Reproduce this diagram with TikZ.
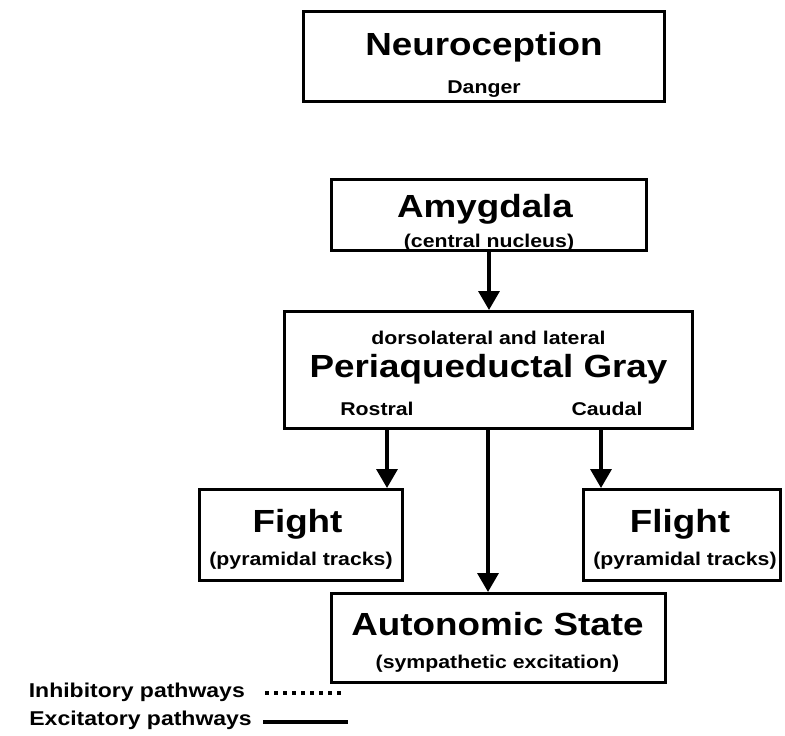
\documentclass[tikz,border=0pt]{standalone}
\usepackage{fontspec}
\setmainfont{Liberation Sans}[FakeStretch=1.15]
\usetikzlibrary{arrows.meta}
\tikzset{
  box/.style={draw, line width=3pt, rectangle, inner sep=0pt},
  ttl/.style={anchor=base, inner sep=0pt, font=\bfseries\fontsize{32}{32}\selectfont},
  subt/.style={anchor=base, inner sep=0pt, font=\bfseries\fontsize{18.5}{18.5}\selectfont},
  leg/.style={anchor=base east, inner sep=0pt, font=\bfseries\fontsize{20}{20}\selectfont},
  arr/.style={line width=3.5pt, -{Triangle[length=19pt,width=21pt]}},
  dotline/.style={line width=4pt, dash pattern=on 4pt off 5pt},
  solidline/.style={line width=4pt}
}
\begin{document}
\begin{tikzpicture}[x=1pt,y=-1pt]
\useasboundingbox (0,0) rectangle (785,736);
% boxes
\node[box, minimum width=361pt, minimum height=90pt] (neuro) at (484,56.5) {};
\node[box, minimum width=315pt, minimum height=71pt] (amyg) at (489,215) {};
\node[box, minimum width=408pt, minimum height=117pt] (pag) at (488.5,370) {};
\node[box, minimum width=203pt, minimum height=91pt] (fight) at (301,535) {};
\node[box, minimum width=197pt, minimum height=91pt] (flight) at (682,535) {};
\node[box, minimum width=334pt, minimum height=89pt] (auto) at (498.5,638) {};
% texts
\node[ttl] (neurot) at (484,55) {Neuroception};
\node[subt] (neuros) at (484,93) {Danger};
\node[ttl] (amygt) at (485,217) {Amygdala};
\node[subt] (amygs) at (489,247) {(central nucleus)};
\node[subt] (pagd) at (488.5,344) {dorsolateral and lateral};
\node[ttl] (pagt) at (488.5,377) {Periaqueductal Gray};
\node[subt] (pagr) at (377,415) {Rostral};
\node[subt] (pagc) at (607,415) {Caudal};
\node[ttl] (fightt) at (297.5,532) {Fight};
\node[subt] (fights) at (301,565) {(pyramidal tracks)};
\node[ttl] (flightt) at (680,532) {Flight};
\node[subt] (flights) at (685,565) {(pyramidal tracks)};
\node[ttl] (autot) at (497.5,635) {Autonomic State};
\node[subt] (autos) at (497.5,668) {(sympathetic excitation)};
% arrows
\coordinate (xa) at (489,0);
\coordinate (xf) at (387,0);
\coordinate (xc) at (488,0);
\coordinate (xl) at (601,0);
\draw[arr] (xa |- amyg.south) -- (xa |- pag.north);
\draw[arr] (xf |- pag.south) -- (xf |- fight.north);
\draw[arr] (xc |- pag.south) -- (xc |- auto.north);
\draw[arr] (xl |- pag.south) -- (xl |- flight.north);
% legend
\node[leg] (inh) at (245,697) {Inhibitory pathways};
\node[leg] (exc) at (252,725) {Excitatory pathways};
\coordinate (d1) at (265,693);
\coordinate (d2) at (342,693);
\coordinate (s1) at (263,722);
\coordinate (s2) at (348,722);
\draw[dotline] (d1) -- (d2);
\draw[solidline] (s1) -- (s2);
\end{tikzpicture}
\end{document}
